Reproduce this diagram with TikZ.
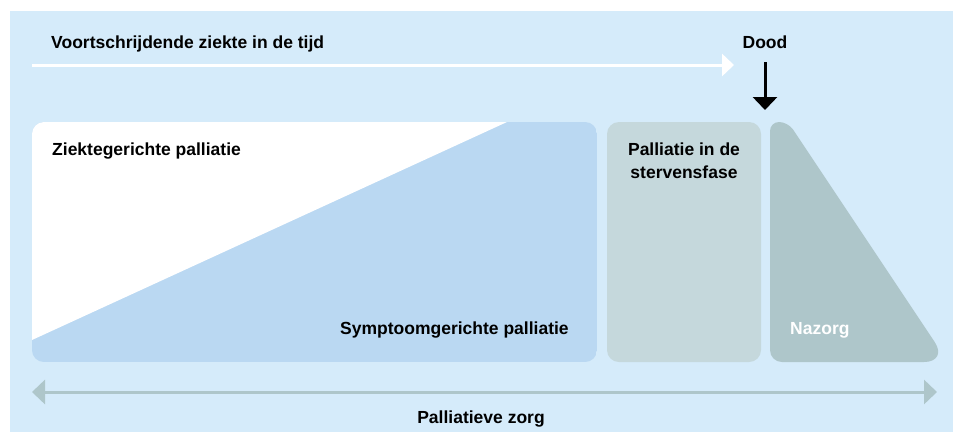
\documentclass[tikz,border=0pt]{standalone}
\usepackage{fontspec}
\setmainfont{Liberation Sans}
\usetikzlibrary{arrows.meta}
\definecolor{panel}{HTML}{D5EBFA}
\definecolor{symptoom}{HTML}{BAD8F2}
\definecolor{sterven}{HTML}{C5D8DC}
\definecolor{nazorg}{HTML}{AEC6CA}

\begin{document}
\begin{tikzpicture}[x=1bp,y=-1bp]
  \useasboundingbox (0,0) rectangle (957,432);
  \fill[panel] (10,11) rectangle (953,432);

  \begin{scope}
    \clip[rounded corners=12] (32,122) rectangle (597,362);
    \fill[symptoom] (32,122) rectangle (597,362);
    \fill[white] (32,340) -- (32,122) -- (507,122) -- cycle;
  \end{scope}
  \fill[sterven, rounded corners=12] (607,122) rectangle (761,362);
  \fill[nazorg] (770,240) [rounded corners=9] -- (770,122) -- (788,122)
    [rounded corners=24] -- (948,362) [rounded corners=12] -- (770,362) -- cycle;

  \begin{scope}[every node/.style={font=\fontsize{17.5bp}{23bp}\selectfont\bfseries, inner sep=0pt}]
    \node[anchor=base west] (tijd) at (51,48) {Voortschrijdende ziekte in de tijd};
    \node[anchor=base] (dood) at (765,48) {Dood};
    \node[anchor=base west] (ziekte) at (52,155) {Ziektegerichte palliatie};
    \node[anchor=base west] (symptoom) at (340,334) {Symptoomgerichte palliatie};
    \node[anchor=north, align=center] (stervensfase) at (684,143) {Palliatie in de\\stervensfase};
    \node[anchor=base west, text=white] (nazorglabel) at (790,334) {Nazorg};
    \node[anchor=base] (zorg) at (481,423) {Palliatieve zorg};
  \end{scope}

  \coordinate (tijdL) at (32,65);
  \coordinate (tijdR) at (734,65);
  \coordinate (doodtip) at (765,110);
  \coordinate (zorgL) at (32,392);
  \coordinate (zorgR) at (937,392);

  \begin{scope}[line width=3bp]
    \draw[white, -{Triangle[length=12bp,width=22bp]}] (tijdL) -- (tijdR);
    \draw[black, -{Triangle[length=13bp,width=24bp]}, shorten <=14bp] (dood.south) -- (doodtip);
    \draw[nazorg, {Triangle[length=13bp,width=24bp]}-{Triangle[length=13bp,width=24bp]}] (zorgL) -- (zorgR);
  \end{scope}
\end{tikzpicture}
\end{document}
